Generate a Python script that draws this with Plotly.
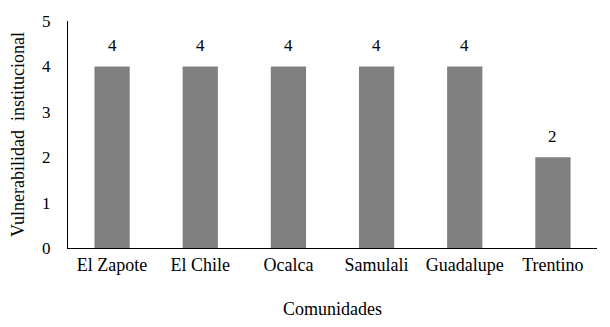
import plotly.graph_objects as go

categorias = ["El Zapote", "El Chile", "Ocalca", "Samulali", "Guadalupe", "Trentino"]
valores = [4, 4, 4, 4, 4, 2]
ticks_y = [0, 1, 2, 3, 4, 5]

FONT = "Liberation Serif"

fig = go.Figure()
fig.add_trace(go.Bar(
    x=categorias, y=valores,
    marker=dict(color="#808080", line=dict(width=0)),
    width=0.4,
))
for c, v in zip(categorias, valores):
    fig.add_annotation(x=c, y=v, text=str(v), showarrow=False,
                       yshift=21, font=dict(family=FONT, size=17, color="black"))

fig.update_layout(
    width=610, height=327,
    margin=dict(l=68, r=13, t=17, b=78),
    paper_bgcolor="white", plot_bgcolor="white",
    showlegend=False,
    font=dict(family=FONT, size=17, color="black"),
    xaxis=dict(
        showline=True, linecolor="black", linewidth=1,
        ticks="", showgrid=False,
        tickfont=dict(family=FONT, size=18),
        title=dict(text="Comunidades", font=dict(family=FONT, size=18), standoff=28),
    ),
    yaxis=dict(
        range=[0, 5], tickvals=ticks_y, showline=True, linecolor="black", linewidth=1,
        ticks="", showgrid=False, zeroline=False,
        tickfont=dict(family=FONT, size=17), ticklabelstandoff=13,
        title=dict(text="Vulnerabilidad&nbsp; institucional", font=dict(family=FONT, size=18), standoff=12),
    ),
)
fig.write_html("out.html")
